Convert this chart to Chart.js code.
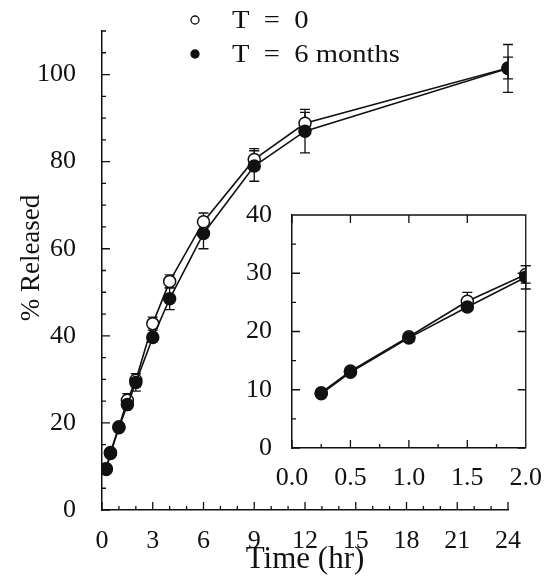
<!DOCTYPE html>
<html lang="en">
<head>
  <meta charset="UTF-8">
  <title>% Released vs Time</title>
  <style>
    body { margin: 0; background: #fff; }
    #wrap { position: relative; width: 551px; height: 577px; }
    #insetChart { position: absolute; left: 232px; top: 190px; }
  </style>
</head>
<body>
  <div id="wrap">
    <canvas id="mainChart" width="551" height="577"></canvas>
    <canvas id="insetChart" width="319" height="310"></canvas>
  </div>

  <script src="https://cdn.jsdelivr.net/npm/chart.js"></script>
  <script>
    // sampling times (hr) and % released
    const times = [0.25, 0.5, 1, 1.5, 2, 3, 4, 6, 9, 12, 24];
    const releasedT0 = [9.5, 13.2, 19.1, 25.2, 29.8, 42.8, 52.5, 66.2, 80.5, 88.8, 101.5];
    const errT0 = [0, 0, 0.4, 1.5, 1.5, 1.5, 1.5, 2, 2.5, 2.5, 2.5];
    const released6m = [9.3, 13.0, 18.9, 24.2, 29.3, 39.6, 48.5, 63.5, 79, 87, 101.4];
    const err6m = [0, 0, 0.4, 0.6, 2, 1, 2.5, 3.5, 3.5, 5, 5.5];
    const insetCount = 5; // first five points (0 - 2 hr) shown in the inset

    const legendLabels = ['T  =  0', 'T  =  6 months'];
    const yTitle = '% Released';
    const mainXTicks = [0, 3, 6, 9, 12, 15, 18, 21, 24];
    const mainYTicks = [0, 20, 40, 60, 80, 100];
    const insetXTicks = [0, 0.5, 1, 1.5, 2];
    const insetYTicks = [0, 10, 20, 30, 40];

    const ink = '#111';
    const serif = "'Liberation Serif', 'Times New Roman', serif";

    function steps(from, to, step) {
      const out = [];
      for (let v = from; v <= to + 1e-9; v += step) out.push(+v.toFixed(4));
      return out;
    }

    function makePoints(xs, ys, n) {
      return xs.slice(0, n).map((x, i) => ({ x: x, y: ys[i] }));
    }

    // inward tick marks drawn along the chart area edges
    const tickMarks = {
      id: 'tickMarks',
      afterDraw(chart, args, opts) {
        const { ctx, chartArea: a, scales } = chart;
        ctx.save();
        ctx.strokeStyle = ink;
        ctx.lineWidth = 1.3;
        ctx.beginPath();
        opts.marks.forEach(m => {
          m.values.forEach(v => {
            if (m.side === 'bottom' || m.side === 'top') {
              const px = scales.x.getPixelForValue(v);
              const y0 = m.side === 'bottom' ? a.bottom : a.top;
              const dir = m.side === 'bottom' ? -1 : 1;
              ctx.moveTo(px, y0);
              ctx.lineTo(px, y0 + dir * m.len);
            } else {
              const py = scales.y.getPixelForValue(v);
              const x0 = m.side === 'left' ? a.left : a.right;
              const dir = m.side === 'left' ? 1 : -1;
              ctx.moveTo(x0, py);
              ctx.lineTo(x0 + dir * m.len, py);
            }
          });
        });
        if (opts.box) {
          ctx.moveTo(a.left, a.top);
          ctx.lineTo(a.right, a.top);
          ctx.lineTo(a.right, a.bottom);
        }
        ctx.stroke();
        ctx.restore();
      }
    };

    const errorBars = {
      id: 'errorBars',
      beforeDatasetsDraw(chart) {
        const { ctx, scales: { x, y } } = chart;
        ctx.save();
        ctx.strokeStyle = ink;
        ctx.lineWidth = 1.3;
        chart.data.datasets.forEach(ds => {
          ds.data.forEach((p, i) => {
            const e = ds.errors[i];
            if (!e) return;
            const px = x.getPixelForValue(p.x);
            const top = y.getPixelForValue(p.y + e);
            const bot = y.getPixelForValue(p.y - e);
            ctx.beginPath();
            ctx.moveTo(px, top); ctx.lineTo(px, bot);
            ctx.moveTo(px - 5, top); ctx.lineTo(px + 5, top);
            ctx.moveTo(px - 5, bot); ctx.lineTo(px + 5, bot);
            ctx.stroke();
          });
        });
        ctx.restore();
      }
    };

    // legend (stacked, top) and the rotated y title
    const legendBox = {
      id: 'legendBox',
      afterDraw(chart) {
        const ctx = chart.ctx;
        ctx.save();
        ctx.lineWidth = 1.3;
        ctx.strokeStyle = ink;
        ctx.font = '26px ' + serif;
        ctx.textBaseline = 'middle';
        [20, 54].forEach((yy, i) => {
          ctx.beginPath();
          ctx.arc(195, yy, 4, 0, Math.PI * 2);
          ctx.fillStyle = i === 0 ? '#fff' : ink;
          ctx.fill();
          ctx.stroke();
          ctx.save();
          ctx.fillStyle = ink;
          ctx.translate(232, yy + 1);
          ctx.scale(1.1, 1);
          ctx.fillText(legendLabels[i], 0, 0);
          ctx.restore();
        });
        ctx.font = '27px ' + serif;
        ctx.fillStyle = ink;
        ctx.textAlign = 'center';
        ctx.translate(32, 258);
        ctx.rotate(-Math.PI / 2);
        ctx.fillText(yTitle, 0, 0);
        ctx.restore();
      }
    };

    function datasetsFor(n) {
      return [
        {
          label: legendLabels[1],
          data: makePoints(times, released6m, n),
          errors: err6m,
          borderColor: ink, borderWidth: 1.6,
          pointRadius: 6, pointBorderWidth: 1.5,
          pointBackgroundColor: ink, pointBorderColor: ink
        },
        {
          label: legendLabels[0],
          data: makePoints(times, releasedT0, n),
          errors: errT0,
          borderColor: ink, borderWidth: 1.6,
          pointRadius: 6, pointBorderWidth: 1.5,
          pointBackgroundColor: '#fff', pointBorderColor: ink
        }
      ];
    }

    const tickFont = { family: serif, size: 26, lineHeight: 1 };

    new Chart(document.getElementById('mainChart'), {
      type: 'line',
      data: { datasets: datasetsFor(times.length) },
      options: {
        responsive: false,
        animation: false,
        layout: { padding: { top: 29, right: 43, left: 0, bottom: 0 } },
        plugins: {
          legend: { display: false },
          tooltip: { enabled: false },
          tickMarks: {
            marks: [
              { side: 'bottom', values: mainXTicks, len: 8 },
              { side: 'bottom', values: steps(0, 24, 1), len: 4 },
              { side: 'left', values: mainYTicks, len: 8 },
              { side: 'left', values: steps(0, 110, 5), len: 4 }
            ]
          }
        },
        scales: {
          x: {
            type: 'linear', min: 0, max: 24,
            afterFit: s => { s.height = 67; },
            afterBuildTicks: s => { s.ticks = mainXTicks.map(v => ({ value: v })); },
            grid: { display: false },
            border: { color: ink, width: 1.5 },
            ticks: { color: ink, font: tickFont, padding: 10, maxRotation: 0, autoSkip: false },
            title: { display: true, text: 'Time (hr)', color: ink, font: { family: serif, size: 31, lineHeight: 1.1 }, padding: 0 }
          },
          y: {
            type: 'linear', min: 0, max: 110,
            afterFit: s => { s.width = 102; },
            afterBuildTicks: s => { s.ticks = mainYTicks.map(v => ({ value: v })); },
            grid: { display: false },
            border: { color: ink, width: 1.5 },
            ticks: { color: ink, font: tickFont, padding: 18 }
          }
        }
      },
      plugins: [tickMarks, errorBars, legendBox]
    });

    new Chart(document.getElementById('insetChart'), {
      type: 'line',
      data: { datasets: datasetsFor(insetCount) },
      options: {
        responsive: false,
        animation: false,
        layout: { padding: { top: 15, right: 19, left: 0, bottom: 0 } },
        plugins: {
          legend: { display: false },
          tooltip: { enabled: false },
          tickMarks: {
            box: true,
            marks: [
              { side: 'bottom', values: insetXTicks, len: 8 },
              { side: 'bottom', values: steps(0, 2, 0.25), len: 4 },
              { side: 'top', values: insetXTicks, len: 8 },
              { side: 'left', values: insetYTicks, len: 8 },
              { side: 'left', values: steps(0, 40, 5), len: 4 },
              { side: 'right', values: insetYTicks, len: 8 }
            ]
          }
        },
        scales: {
          x: {
            type: 'linear', min: 0, max: 2,
            afterFit: s => { s.height = 52; },
            afterBuildTicks: s => { s.ticks = insetXTicks.map(v => ({ value: v })); },
            grid: { display: false },
            border: { color: ink, width: 1.5 },
            ticks: { color: ink, font: tickFont, padding: 9, maxRotation: 0, autoSkip: false, callback: v => v.toFixed(1) }
          },
          y: {
            type: 'linear', min: 0, max: 40,
            afterFit: s => { s.width = 60; },
            afterBuildTicks: s => { s.ticks = insetYTicks.map(v => ({ value: v })); },
            grid: { display: false },
            border: { color: ink, width: 1.5 },
            ticks: { color: ink, font: tickFont, padding: 12 }
          }
        }
      },
      plugins: [tickMarks, errorBars]
    });
  </script>
</body>
</html>
